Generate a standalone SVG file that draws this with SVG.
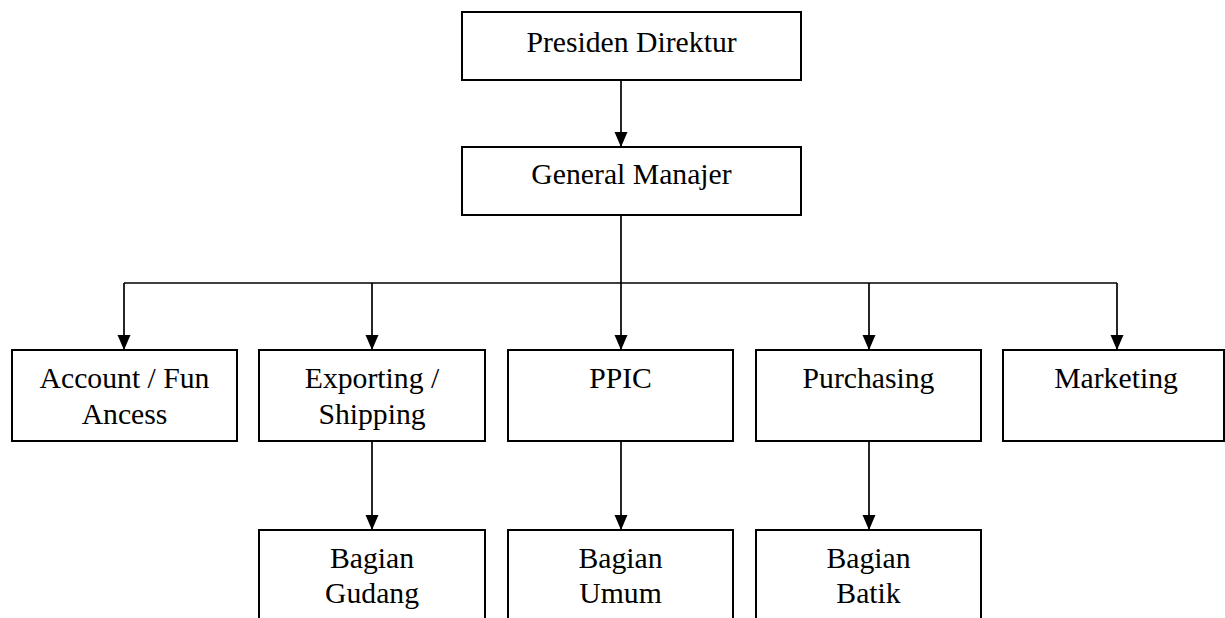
<svg xmlns="http://www.w3.org/2000/svg" width="1225" height="618" viewBox="0 0 1225 618">
<style>
.box{fill:#fff;stroke:#000;stroke-width:2}
.t{font-family:"Liberation Serif","Times New Roman",serif;font-size:29.7px;fill:#000;text-anchor:middle}
.c{fill:none;stroke:#000;stroke-width:1.7}
</style>
<defs>
<marker id="ah" markerUnits="userSpaceOnUse" markerWidth="16" markerHeight="14" refX="15" refY="6.5" orient="auto">
<path d="M0,0 L15,6.5 L0,13 Z" fill="#000"/>
</marker>
</defs>
<rect width="1225" height="618" fill="#fff"/>
<g id="connectors">
<line class="c" x1="621" y1="80" x2="621" y2="147" marker-end="url(#ah)"/>
<line class="c" x1="621" y1="215" x2="621" y2="283"/>
<line class="c" x1="124" y1="283" x2="1117" y2="283"/>
<line class="c" x1="124" y1="283" x2="124" y2="350" marker-end="url(#ah)"/>
<line class="c" x1="372" y1="283" x2="372" y2="350" marker-end="url(#ah)"/>
<line class="c" x1="621" y1="283" x2="621" y2="350" marker-end="url(#ah)"/>
<line class="c" x1="869" y1="283" x2="869" y2="350" marker-end="url(#ah)"/>
<line class="c" x1="1117" y1="283" x2="1117" y2="350" marker-end="url(#ah)"/>
<line class="c" x1="372" y1="441" x2="372" y2="530" marker-end="url(#ah)"/>
<line class="c" x1="621" y1="441" x2="621" y2="530" marker-end="url(#ah)"/>
<line class="c" x1="869" y1="441" x2="869" y2="530" marker-end="url(#ah)"/>
</g>
<g id="presiden"><rect class="box" x="462" y="12" width="339" height="68"/><text class="t" x="631.5" y="52">Presiden Direktur</text></g>
<g id="gm"><rect class="box" x="462" y="147" width="339" height="68"/><text class="t" x="631.5" y="184">General Manajer</text></g>
<g id="account"><rect class="box" x="12" y="350" width="225" height="91"/><text class="t" x="124.5" y="388">Account / Fun</text><text class="t" x="124.5" y="424">Ancess</text></g>
<g id="exporting"><rect class="box" x="259" y="350" width="226" height="91"/><text class="t" x="372" y="388">Exporting /</text><text class="t" x="372" y="424">Shipping</text></g>
<g id="ppic"><rect class="box" x="508" y="350" width="225" height="91"/><text class="t" x="620.5" y="388">PPIC</text></g>
<g id="purchasing"><rect class="box" x="756" y="350" width="225" height="91"/><text class="t" x="868.5" y="388">Purchasing</text></g>
<g id="marketing"><rect class="box" x="1003" y="350" width="221" height="91"/><text class="t" x="1116" y="388">Marketing</text></g>
<g id="gudang"><rect class="box" x="259" y="530" width="226" height="100"/><text class="t" x="372" y="568">Bagian</text><text class="t" x="372" y="603">Gudang</text></g>
<g id="umum"><rect class="box" x="508" y="530" width="225" height="100"/><text class="t" x="620.5" y="568">Bagian</text><text class="t" x="620.5" y="603">Umum</text></g>
<g id="batik"><rect class="box" x="756" y="530" width="225" height="100"/><text class="t" x="868.5" y="568">Bagian</text><text class="t" x="868.5" y="603">Batik</text></g>
</svg>
